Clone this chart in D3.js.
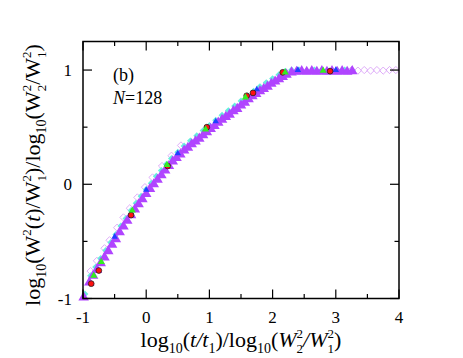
<!DOCTYPE html>
<html><head><meta charset="utf-8">
<script src="https://cdn.jsdelivr.net/npm/d3@7"></script>
<style>body{margin:0;background:#fff}svg{display:block}</style>
</head><body><svg id="c" width="463" height="358" font-family="Liberation Serif"></svg>
<script>
// ---- data ----
const xTickLabels = [-1, 0, 1, 2, 3, 4];
const yTickLabels = [-1, 0, 1];
const purpleX = [-0.99,-0.9,-0.84,-0.78,-0.72,-0.66,-0.6,-0.54,-0.48,-0.42,-0.36,-0.3,-0.24,-0.18,-0.12,-0.06,0,0.06,0.12,0.18,0.24,0.3,0.36,0.42,0.48,0.54,0.6,0.66,0.72,0.78,0.84,0.9,0.96,1.02,1.08,1.14,1.2,1.26,1.32,1.38,1.44,1.5,1.56,1.62,1.68,1.74,1.8,1.86,1.92,1.98,2.04,2.1,2.16,2.22,2.3,2.38,2.46,2.54,2.62,2.7,2.78,2.86,2.94,3.02,3.1,3.18,3.26];
const purpleY = [-0.99,-0.86,-0.80,-0.75,-0.69,-0.64,-0.585,-0.53,-0.48,-0.42,-0.37,-0.32,-0.27,-0.22,-0.175,-0.13,-0.085,-0.04,0.0,0.04,0.08,0.12,0.16,0.20,0.23,0.26,0.295,0.32,0.35,0.375,0.40,0.43,0.455,0.485,0.51,0.54,0.565,0.59,0.61,0.64,0.66,0.69,0.715,0.745,0.77,0.79,0.815,0.835,0.855,0.88,0.90,0.92,0.94,0.96,0.98,0.985,0.99,0.985,0.99,0.985,0.99,0.985,0.99,0.985,0.99,0.985,0.99];
const cyanX = [-0.97,-0.88,-0.8,-0.72,-0.64,-0.56,-0.48,-0.4,-0.32,-0.24,-0.16,-0.08,0,0.08,0.16,0.24,0.32,0.4,0.5,0.6,0.7,0.8,0.9,1.0,1.1,1.2,1.3,1.4,1.5,1.6,1.7,1.8,1.9,2.0,2.1,2.2,2.3,2.42,2.54,2.66,2.78,2.9,3.02,3.14,3.26];
const cyanY = [-0.96,-0.80,-0.725,-0.65,-0.58,-0.51,-0.44,-0.365,-0.30,-0.23,-0.165,-0.105,-0.045,0.01,0.07,0.12,0.175,0.225,0.28,0.335,0.38,0.425,0.47,0.515,0.56,0.605,0.645,0.685,0.73,0.775,0.815,0.855,0.89,0.925,0.96,0.99,1.0,1.0,0.995,1.0,1.0,0.995,1.0,1.0,0.995];
const redX = [-0.87,-0.75,-0.24,0.34,0.96,1.59,1.69,2.16,2.91];
const redY = [-0.87,-0.755,-0.27,0.16,0.50,0.775,0.80,0.98,0.99];
const greenX = [-0.83,-0.71,-0.22,0.33,0.94,1.57,2.2,2.8];
const greenY = [-0.80,-0.68,-0.23,0.17,0.48,0.76,0.98,0.995];
const blueX = [-0.5,0.0,0.5,1.1,1.75,2.4,3.0];
const blueY = [-0.46,-0.05,0.27,0.55,0.83,1.0,1.0];
const lightX = [-0.88,-0.78,-0.66,-0.58,-0.46,-0.36,-0.26,-0.14,-0.02,0.1,0.25,0.4,0.55,3.25,3.35,3.45,3.55,3.65,3.75,3.85,3.95];
const lightY = [-0.76,-0.67,-0.56,-0.49,-0.38,-0.29,-0.21,-0.115,-0.025,0.06,0.16,0.25,0.34,1.0,0.995,1.0,0.995,1.0,0.995,1.0,1.0];

// ---- chart ----
const svg = d3.select("#c");
const L = 83, R = 399, T = 41.5, B = 298.5;
const x = d3.scaleLinear().domain([-1, 4]).range([L, R]);
const y = d3.scaleLinear().domain([-1, 1.25]).range([B, T]);

const g = svg.append("g");
function pts(xs, ys){ return xs.map((v,i)=>[v, ys[i]]); }
function draw(xs, ys, type, size, fill, stroke, sw, rot){
  const sym = d3.symbol().type(type).size(size);
  g.selectAll(null).data(pts(xs, ys)).enter().append("path")
    .attr("d", sym)
    .attr("transform", d => `translate(${x(d[0])},${y(d[1])})` + (rot ? ` rotate(${rot})` : ""))
    .attr("fill", fill).attr("stroke", stroke).attr("stroke-width", sw);
}
draw(lightX, lightY, d3.symbolSquare, 26, "none", "#dca8f8", 0.9, 45);
draw(cyanX, cyanY, d3.symbolSquare, 24, "#66eedd", "none", 0, 45);
draw(purpleX, purpleY, d3.symbolTriangle, 48, "#b044ff", "none", 0, 0);
draw(blueX, blueY, d3.symbolTriangle, 18, "#2040ff", "none", 0, 0);
draw(redX, redY, d3.symbolCircle, 26, "#ff1010", "#222", 0.8, 0);
draw(greenX, greenY, d3.symbolTriangle, 22, "#33ee22", "none", 0, 0);

// frame
svg.append("rect").attr("x", L).attr("y", T).attr("width", R-L).attr("height", B-T)
  .attr("fill", "none").attr("stroke", "#000").attr("stroke-width", 1.5);

// ticks
const xt = d3.range(-1, 4.01, 0.5);
const yt = d3.range(-1, 1.01, 0.5);
const isMaj = v => Math.abs(v - Math.round(v)) < 1e-6;
const tk = svg.append("g").attr("stroke", "#000").attr("stroke-width", 1.2);
xt.forEach(v => {
  const len = isMaj(v) ? 9 : 4.5;
  tk.append("line").attr("x1", x(v)).attr("x2", x(v)).attr("y1", B).attr("y2", B-len);
  tk.append("line").attr("x1", x(v)).attr("x2", x(v)).attr("y1", T).attr("y2", T+len);
});
yt.forEach(v => {
  const len = isMaj(v) ? 9 : 4.5;
  tk.append("line").attr("y1", y(v)).attr("y2", y(v)).attr("x1", L).attr("x2", L+len);
  tk.append("line").attr("y1", y(v)).attr("y2", y(v)).attr("x1", R).attr("x2", R-len);
});
xTickLabels.forEach(v => {
  svg.append("text").attr("x", x(v)).attr("y", 323).attr("text-anchor", "middle")
    .attr("font-size", 17).text(v);
});
yTickLabels.forEach(v => {
  svg.append("text").attr("x", 72).attr("y", y(v)+6).attr("text-anchor", "end")
    .attr("font-size", 17).text(v);
});

// annotations
svg.append("text").attr("x", 113).attr("y", 81).attr("font-size", 18).text("(b)");
const nt = svg.append("text").attr("x", 113).attr("y", 104).attr("font-size", 18);
nt.append("tspan").attr("font-style", "italic").text("N");
nt.append("tspan").text("=128");

// axis titles
function addParts(t, parts){
  parts.forEach(p => {
    const s = t.append("tspan").text(p.t);
    if (p.it) s.attr("font-style", "italic");
    if (p.fs) s.attr("font-size", p.fs);
    if (p.dy !== undefined) s.attr("dy", p.dy);
    if (p.dx !== undefined) s.attr("dx", p.dx);
  });
}
const xt1 = svg.append("text").attr("x", 241).attr("y", 347).attr("text-anchor", "middle").attr("font-size", 22);
addParts(xt1, [
  {t:"log"},{t:"10", fs:14, dy:6},{t:"(", dy:-6},{t:"t/t", it:true},{t:"1", fs:14, dy:6},{t:")/log", dy:-6},
  {t:"10", fs:14, dy:6},{t:"(", dy:-6},{t:"W", it:true},{t:"2", fs:13, dy:-9},{t:"2", fs:13, dx:-6.5, dy:15},
  {t:"/", it:true, dy:-6},{t:"W", it:true},{t:"2", fs:13, dy:-9},{t:"1", fs:13, dx:-6.5, dy:15},{t:")", dy:-6}
]);
const yt1 = svg.append("text").attr("transform", "translate(40,175) rotate(-90)").attr("text-anchor", "middle").attr("font-size", 22);
addParts(yt1, [
  {t:"log"},{t:"10", fs:14, dy:6},{t:"(W", dy:-6},{t:"2", fs:13, dy:-9},{t:"(", dy:9},{t:"t", it:true},{t:")/W"},
  {t:"2", fs:13, dy:-9},{t:"1", fs:13, dx:-6.5, dy:15},{t:")/log", dy:-6},{t:"10", fs:14, dy:6},{t:"(W", dy:-6},
  {t:"2", fs:13, dy:-9},{t:"2", fs:13, dx:-6.5, dy:15},{t:"/W", dy:-6},{t:"2", fs:13, dy:-9},{t:"1", fs:13, dx:-6.5, dy:15},{t:")", dy:-6}
]);
</script></body></html>
